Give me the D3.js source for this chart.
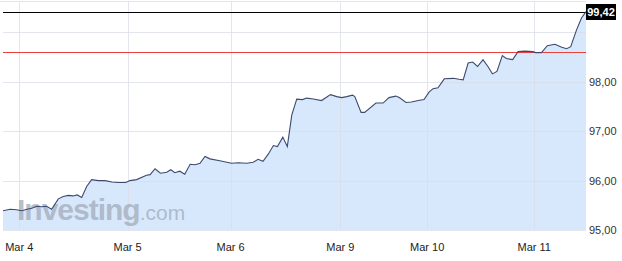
<!DOCTYPE html>
<html>
<head>
<meta charset="utf-8">
<script src="https://cdn.jsdelivr.net/npm/d3@7"></script>
<style>
  body { margin: 0; background: #fff; }
  text { font-family: Arial, "Liberation Sans", sans-serif; }
</style>
</head>
<body>
<div id="chart"></div>
<script>
// hours of trading since start of window (x) and price (y)
const hours = [0, 1.6, 3.0, 4.2, 5.3, 6.4, 7.5, 8.6, 9.7, 10.8, 12.3, 13.4, 14.5, 15.6, 16.5, 17.5,
  18.6, 19.7, 21.2, 22.7, 24.2, 25.6, 27.3, 28.2, 29.7, 31.9, 32.7, 33.8, 35.0, 36.4, 37.3, 38.2,
  39.3, 40.4, 41.6, 42.7, 43.8, 44.9, 46.0, 48.2, 50.8, 52.3, 54.2, 55.6, 56.7, 57.8, 59.0, 60.1,
  61.0, 62.2, 63.2, 64.2, 65.3, 66.6, 67.5, 69.0, 70.8, 72.8, 74.2, 75.3, 76.4, 77.7, 78.2, 79.6,
  80.4, 82.9, 84.5, 85.8, 87.3, 88.1, 89.6, 90.8, 92.3, 93.6, 94.7, 95.6, 96.7, 98.1, 100.1, 101.4,
  102.3, 103.4, 104.4, 105.5, 106.7, 107.8, 108.8, 109.8, 111.0, 111.9, 113.3, 114.5, 116.0, 117.8,
  118.4, 119.7, 121.0, 122.7, 124.2, 125.3, 126.2, 127.5, 128.6, 129.6];
const prices = [95.39, 95.42, 95.41, 95.39, 95.42, 95.44, 95.48, 95.47, 95.48, 95.42, 95.63, 95.68,
  95.70, 95.69, 95.71, 95.66, 95.88, 96.02, 96.00, 96.00, 95.97, 95.96, 95.96, 96.00, 96.02, 96.11,
  96.12, 96.24, 96.15, 96.17, 96.22, 96.16, 96.19, 96.13, 96.33, 96.32, 96.35, 96.49, 96.44, 96.40,
  96.35, 96.36, 96.35, 96.37, 96.43, 96.39, 96.54, 96.71, 96.69, 96.88, 96.69, 97.33, 97.65, 97.64,
  97.67, 97.65, 97.62, 97.74, 97.70, 97.68, 97.70, 97.73, 97.70, 97.38, 97.38, 97.57, 97.57, 97.68,
  97.71, 97.68, 97.58, 97.59, 97.62, 97.64, 97.79, 97.86, 97.88, 98.06, 98.07, 98.05, 98.04, 98.38,
  98.40, 98.31, 98.45, 98.31, 98.16, 98.21, 98.53, 98.47, 98.45, 98.61, 98.62, 98.61, 98.59, 98.59,
  98.73, 98.76, 98.70, 98.67, 98.71, 99.05, 99.29, 99.42];

const dayLabels = ['Mar 4', 'Mar 5', 'Mar 6', 'Mar 9', 'Mar 10', 'Mar 11'];
const dayHours  = [3.6, 27.7, 50.6, 75.0, 94.3, 118.1];

const priceTicks = [95, 96, 97, 98, 99];
const priceLabels = ['95,00', '96,00', '97,00', '98,00', ''];
const prevClose = 98.61;
const lastLabel = '99,42';

const width = 622, height = 261;
const margin = { top: 2, right: 36, bottom: 31, left: 3 };

const data = hours.map((h, i) => ({ h: h, v: prices[i] }));

const x = d3.scaleLinear()
    .domain([0, 129.6])
    .range([margin.left, width - margin.right]);

const y = d3.scaleLinear()
    .domain([95, 99.615])
    .range([height - margin.bottom, margin.top]);

const snap = v => Math.round(v) + 0.5;

const svg = d3.select('#chart').append('svg')
    .attr('width', width)
    .attr('height', height);

// filled area under the price
svg.append('path')
    .datum(data)
    .attr('fill', '#d7e8fc')
    .attr('d', d3.area()
        .x(d => x(d.h))
        .y0(y(95))
        .y1(d => y(d.v)));

// grid
const grid = svg.append('g').attr('stroke', '#d9dde5').attr('stroke-opacity', 0.75);

grid.selectAll('line.h')
    .data(priceTicks)
    .enter()
    .append('line')
    .attr('x1', margin.left)
    .attr('x2', width - margin.right)
    .attr('y1', d => snap(y(d)))
    .attr('y2', d => snap(y(d)));

grid.append('line')
    .attr('x1', 0).attr('x2', width - margin.right)
    .attr('y1', margin.top - 0.5).attr('y2', margin.top - 0.5);

grid.selectAll('line.v')
    .data(dayHours)
    .enter()
    .append('line')
    .attr('x1', d => snap(x(d)))
    .attr('x2', d => snap(x(d)))
    .attr('y1', margin.top)
    .attr('y2', height - margin.bottom);

// watermark
const wm = svg.append('text')
    .attr('x', 17)
    .attr('y', 220)
    .attr('fill', '#a4aebd')
    .attr('fill-opacity', 0.8);
wm.append('tspan')
    .attr('font-size', 30)
    .attr('font-weight', 'bold')
    .attr('letter-spacing', -1)
    .text('Investing');
wm.append('tspan')
    .attr('font-size', 21)
    .text('.com');

// reference lines
svg.append('line')
    .attr('x1', margin.left).attr('x2', width - margin.right)
    .attr('y1', snap(y(prevClose))).attr('y2', snap(y(prevClose)))
    .attr('stroke', '#e8403c').attr('stroke-width', 1);

svg.append('line')
    .attr('x1', margin.left).attr('x2', width - margin.right)
    .attr('y1', snap(y(prices[prices.length - 1]))).attr('y2', snap(y(prices[prices.length - 1])))
    .attr('stroke', '#000').attr('stroke-width', 1);

// price line
svg.append('path')
    .datum(data)
    .attr('fill', 'none')
    .attr('stroke', '#3d4a6d')
    .attr('stroke-width', 1.1)
    .attr('d', d3.line().x(d => x(d.h)).y(d => y(d.v)));

// axes labels
svg.append('g')
    .selectAll('text')
    .data(priceTicks)
    .enter()
    .append('text')
    .attr('x', width - margin.right + 3)
    .attr('y', d => y(d) + 4)
    .attr('font-size', 11)
    .attr('fill', '#333')
    .text((d, i) => priceLabels[i]);

svg.append('g')
    .selectAll('text')
    .data(dayHours)
    .enter()
    .append('text')
    .attr('x', d => x(d))
    .attr('y', height - 10)
    .attr('text-anchor', 'middle')
    .attr('font-size', 11)
    .attr('fill', '#222')
    .text((d, i) => dayLabels[i]);

// last price tag
const ly = y(prices[prices.length - 1]);
svg.append('rect')
    .attr('x', width - margin.right)
    .attr('y', Math.round(ly) - 8)
    .attr('width', 30)
    .attr('height', 16)
    .attr('fill', '#000');
svg.append('text')
    .attr('x', width - margin.right + 15)
    .attr('y', ly + 4)
    .attr('text-anchor', 'middle')
    .attr('font-size', 11)
    .attr('font-weight', 'bold')
    .attr('fill', '#fff')
    .text(lastLabel);
</script>
</body>
</html>
